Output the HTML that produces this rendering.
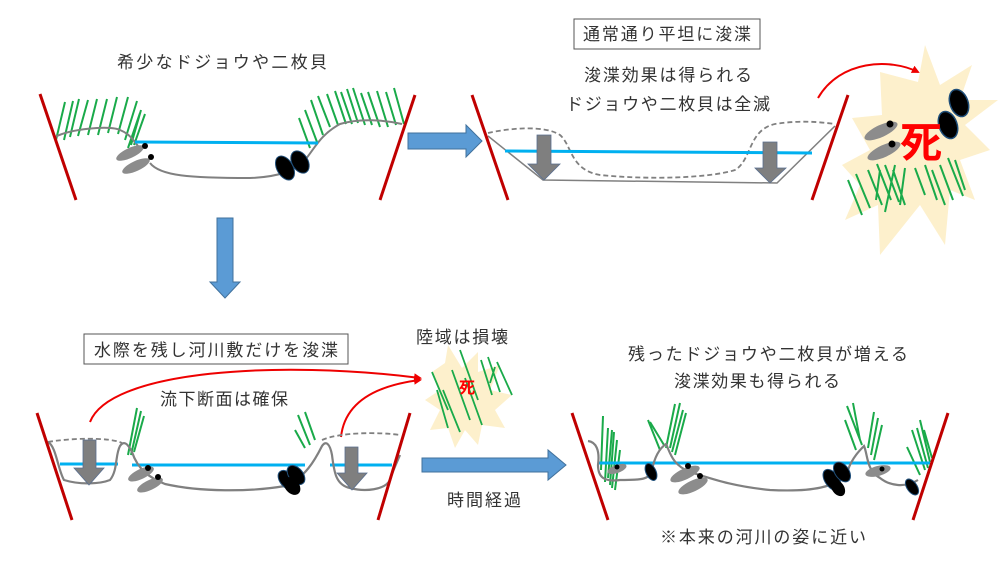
<!DOCTYPE html>
<html><head><meta charset="utf-8"><style>
html,body{margin:0;padding:0;background:#fff}
svg{display:block}
text{font-family:"Liberation Sans","Noto Sans CJK JP",sans-serif;fill:#333;font-size:17px}
</style></head><body>
<svg width="1000" height="563" viewBox="0 0 1000 563" xmlns="http://www.w3.org/2000/svg">
<defs>
<marker id="ra" markerWidth="8" markerHeight="8" refX="6" refY="4" orient="auto" markerUnits="userSpaceOnUse"><path d="M0,0 L8,4 L0,8 z" fill="#e00"/></marker>
</defs>
<rect width="1000" height="563" fill="#fff"/>

<!-- Texts -->
<text x="222" y="68" text-anchor="middle" textLength="210">希少なドジョウや二枚貝</text>
<rect x="574" y="19" width="186" height="30" fill="#fff" stroke="#555" stroke-width="1"/>
<text x="667" y="40" text-anchor="middle" textLength="168">通常通り平坦に浚渫</text>
<text x="668" y="81" text-anchor="middle" textLength="168">浚渫効果は得られる</text>
<text x="668" y="110" text-anchor="middle" textLength="204">ドジョウや二枚貝は全滅</text>
<rect x="84" y="334" width="264" height="30" fill="#fff" stroke="#555" stroke-width="1"/>
<text x="216" y="356" text-anchor="middle" textLength="244">水際を残し河川敷だけを浚渫</text>
<text x="462" y="343" text-anchor="middle" textLength="92">陸域は損壊</text>
<text x="224" y="405" text-anchor="middle" textLength="128">流下断面は確保</text>
<text x="768" y="360" text-anchor="middle" textLength="280">残ったドジョウや二枚貝が増える</text>
<text x="757" y="387" text-anchor="middle" textLength="166">浚渫効果も得られる</text>
<text x="484" y="506" text-anchor="middle" textLength="74">時間経過</text>
<text x="763" y="543" text-anchor="middle" textLength="206">※本来の河川の姿に近い</text>

<!-- Blue arrows -->
<path d="M408,133 L466,133 L466,125 L482,141 L466,157 L466,149 L408,149 z" fill="#5b9bd5" stroke="#41719c" stroke-width="1"/>
<path d="M217,218 L233,218 L233,282 L240,282 L225,298 L210,282 L217,282 z" fill="#5b9bd5" stroke="#41719c" stroke-width="1"/>
<path d="M422,458 L548,458 L548,450 L566,465 L548,480 L548,472 L422,472 z" fill="#5b9bd5" stroke="#41719c" stroke-width="1"/>

<!-- ===== Panel 1 ===== -->
<g stroke="#1aaa4a" stroke-width="2" fill="none">
<path d="M56,140 L65,102 M64,140 L73,101 M70,137 L79,99 M78,136 L88,100 M88,135 L97,99 M98,135 L107,99 M108,133 L117,97 M118,134 L128,97 M125,140 L137,101 M131,145 L141,110 M134,145 L145,114 M128,148 L140,113"/>
<path d="M310,148 L299,118 M317,142 L305,110 M323,135 L311,100 M330,127 L318,96 M338,125 L327,94 M346,124 L335,91 M352,124 L341,92 M358,123 L347,89 M365,125 L353,88 M372,125 L361,93 M380,127 L368,92 M388,127 L377,91 M396,125 L386,92 M404,124 L394,88"/>
</g>
<path d="M55,137 C70,129 110,125 120,130 C130,134 133,140 138,146" fill="none" stroke="#808080" stroke-width="2"/>
<path d="M150,163 C160,176 190,178 250,178 C280,177 295,170 305,160 C315,148 320,135 340,124 C360,118 385,120 402,124" fill="none" stroke="#808080" stroke-width="2"/>
<line x1="135" y1="142" x2="318" y2="143" stroke="#00b0f0" stroke-width="3"/>
<ellipse cx="130" cy="153" rx="15" ry="5" transform="rotate(-25 130 153)" fill="#8c8c8c"/>
<ellipse cx="136" cy="166" rx="15" ry="5" transform="rotate(-25 136 166)" fill="#8c8c8c"/>
<circle cx="145" cy="146" r="3" fill="#000"/><circle cx="151" cy="157" r="3" fill="#000"/>
<ellipse cx="285" cy="168" rx="8" ry="13" transform="rotate(-30 285 168)" fill="#000" stroke="#1f4e79" stroke-width="1"/>
<ellipse cx="300" cy="162" rx="8" ry="12" transform="rotate(-30 300 162)" fill="#000" stroke="#1f4e79" stroke-width="1"/>
<line x1="40" y1="94" x2="76" y2="200" stroke="#c00000" stroke-width="3"/>
<line x1="415" y1="95" x2="380" y2="200" stroke="#c00000" stroke-width="3"/>

<!-- ===== Panel 2 ===== -->
<path d="M488,136 L543,180 L777,183 L835,126" fill="none" stroke="#808080" stroke-width="1.5"/>
<path d="M488,133 C510,128 545,125 560,135 C572,145 570,170 600,175 C650,180 710,178 735,170 C752,160 748,130 775,124 C800,120 820,122 835,124" fill="none" stroke="#808080" stroke-width="1.8" stroke-dasharray="5,3"/>
<line x1="505" y1="151" x2="812" y2="153" stroke="#00b0f0" stroke-width="3"/>
<path d="M537,135 L551,135 L551,164 L560,164 L544,180 L528,164 L537,164 z" fill="#7f7f7f" stroke="#5a6f8f" stroke-width="0.8"/>
<path d="M763,142 L777,142 L777,168 L786,168 L770,183 L755,168 L763,168 z" fill="#7f7f7f" stroke="#5a6f8f" stroke-width="0.8"/>
<line x1="472" y1="95" x2="508" y2="200" stroke="#c00000" stroke-width="3"/>
<line x1="848" y1="95" x2="812" y2="200" stroke="#c00000" stroke-width="3"/>

<!-- burst -->
<path d="M818,98 C840,60 890,58 918,72" fill="none" stroke="#e00" stroke-width="2" marker-end="url(#ra)"/>
<polygon points="880,72 918,82 925,45 940,85 972,65 960,100 998,100 965,125 990,150 960,160 975,200 950,190 945,245 920,205 880,255 878,205 845,220 860,185 842,165 870,150 852,118 882,115" fill="#fdf0cc"/>
<g stroke="#1aaa4a" stroke-width="2">
<path d="M848,180 L862,215 M856,174 L870,208 M868,170 L882,205 M877,164 L891,200 M885,165 L899,202 M893,170 L905,205 M880,170 L876,200 M895,165 L885,212 M905,168 L900,205 M915,168 L925,195 M925,165 L937,200 M932,170 L945,205 M940,165 L953,200 M948,158 L963,196 M955,160 L965,190"/>
</g>
<ellipse cx="881" cy="131" rx="18" ry="6" transform="rotate(-25 881 131)" fill="#8c8c8c"/>
<ellipse cx="884" cy="151" rx="18" ry="6" transform="rotate(-25 884 151)" fill="#8c8c8c"/>
<circle cx="890" cy="124" r="3.5" fill="#000"/><circle cx="892" cy="144" r="3.5" fill="#000"/>
<ellipse cx="959" cy="103" rx="9" ry="14" transform="rotate(-20 959 103)" fill="#000" stroke="#1f4e79" stroke-width="1.5"/>
<ellipse cx="948" cy="125" rx="9" ry="14" transform="rotate(-20 948 125)" fill="#000" stroke="#1f4e79" stroke-width="1.5"/>
<text x="921" y="157" text-anchor="middle" style="font-size:42px;font-weight:bold;fill:#ff0000">死</text>

<!-- ===== Panel 3 ===== -->
<path d="M90,422 C110,370 280,360 420,378" fill="none" stroke="#e00" stroke-width="2" marker-end="url(#ra)"/>
<path d="M341,437 C345,400 380,385 420,380" fill="none" stroke="#e00" stroke-width="2" marker-end="url(#ra)"/>
<polygon points="432,372 445,363 448,345 462,368 478,352 478,372 500,365 490,390 512,395 495,410 505,428 482,425 478,445 465,430 455,448 448,428 430,430 440,410 425,400 440,390" fill="#fdf0cc"/>
<g stroke="#1aaa4a" stroke-width="1.8">
<path d="M432,372 L448,410 M437,390 L448,428 M443,390 L460,432 M452,370 L470,420 M460,350 L478,400 M465,378 L482,425 M481,360 L492,395 M488,357 L500,392 M497,362 L512,395 M495,367 L490,383"/>
</g>
<text x="467" y="393" text-anchor="middle" style="font-size:16px;font-weight:bold;fill:#ff0000">死</text>

<g stroke="#1aaa4a" stroke-width="2"><path d="M128,455 L137,408 M131,455 L141,411 M134,452 L144,416"/>
<path d="M305,448 L295,430 M310,445 L298,415 M315,440 L305,412"/></g>
<path d="M48,442 C70,438 110,437 122,443" fill="none" stroke="#808080" stroke-width="1.8" stroke-dasharray="5,3"/>
<path d="M322,440 C340,432 380,432 400,435" fill="none" stroke="#808080" stroke-width="1.8" stroke-dasharray="5,3"/>
<line x1="60" y1="464" x2="118" y2="464" stroke="#00b0f0" stroke-width="3"/>
<line x1="132" y1="465" x2="305" y2="465" stroke="#00b0f0" stroke-width="3"/>
<line x1="330" y1="465" x2="392" y2="465" stroke="#00b0f0" stroke-width="3"/>
<path d="M48,442 C56,446 58,470 64,480 C80,485 100,484 110,480 C118,470 115,455 120,446 C124,440 128,444 132,452 C138,470 150,478 165,484 C200,492 250,492 285,486 C305,478 315,460 322,446 C326,440 330,444 332,455 C334,470 335,485 350,488 C365,492 385,490 390,480 C393,470 398,460 400,455" fill="none" stroke="#808080" stroke-width="2.2"/>
<path d="M83,440 L96,440 L96,468 L104,468 L89,485 L74,468 L83,468 z" fill="#7f7f7f" stroke="#5a6f8f" stroke-width="0.8"/>
<path d="M345,447 L358,447 L358,473 L367,473 L352,490 L337,473 L345,473 z" fill="#7f7f7f" stroke="#5a6f8f" stroke-width="0.8"/>
<ellipse cx="141" cy="474" rx="14" ry="5" transform="rotate(-25 141 474)" fill="#8c8c8c"/>
<ellipse cx="150" cy="485" rx="14" ry="5" transform="rotate(-25 150 485)" fill="#8c8c8c"/>
<circle cx="148" cy="468" r="3" fill="#000"/><circle cx="158" cy="477" r="3" fill="#000"/>
<ellipse cx="287" cy="480" rx="7" ry="11" transform="rotate(-40 287 480)" fill="#000" stroke="#1f4e79"/>
<ellipse cx="296" cy="475" rx="7" ry="11" transform="rotate(-40 296 475)" fill="#000" stroke="#1f4e79"/>
<ellipse cx="292" cy="486" rx="7" ry="10" transform="rotate(-40 292 486)" fill="#000"/>
<line x1="37" y1="413" x2="72" y2="520" stroke="#c00000" stroke-width="3"/>
<line x1="410" y1="413" x2="378" y2="520" stroke="#c00000" stroke-width="3"/>

<!-- ===== Panel 4 ===== -->
<g stroke="#1aaa4a" stroke-width="2">
<path d="M601,470 L603,416 M605,482 L608,428 M608,478 L612,430 M610,485 L614,432 M612,488 L617,440 M615,490 L620,450"/>
<path d="M660,450 L648,420 M664,445 L650,422 M666,448 L675,404 M670,448 L680,403 M672,452 L683,410 M675,455 L686,413"/>
<path d="M856,450 L845,420 M862,445 L847,406 M868,448 L874,412 M871,455 L878,418 M874,460 L882,425 M860,440 L853,403"/>
<path d="M920,475 L907,447 M925,470 L912,430 M928,468 L917,428 M930,462 L920,420 M932,458 L924,430"/>
</g>
<line x1="598" y1="463" x2="930" y2="463" stroke="#00b0f0" stroke-width="3"/>
<path d="M588,441 C596,442 600,450 598,465 C598,478 605,482 620,480 C640,480 650,480 652,470 C655,455 660,448 666,444 C670,452 672,465 690,472 C710,478 730,486 770,490 C810,492 840,488 848,470 C852,458 860,450 864,446 C868,455 866,470 880,478 C890,486 905,488 918,480" fill="none" stroke="#808080" stroke-width="2.2"/>
<ellipse cx="617" cy="469" rx="10" ry="4" transform="rotate(-20 617 469)" fill="#8c8c8c"/>
<circle cx="617" cy="467" r="2.5" fill="#000"/>
<ellipse cx="651" cy="472" rx="5" ry="9" transform="rotate(-25 651 472)" fill="#000" stroke="#1f4e79"/>
<ellipse cx="685" cy="474" rx="16" ry="5.5" transform="rotate(-25 685 474)" fill="#8c8c8c"/>
<ellipse cx="693" cy="486" rx="16" ry="5.5" transform="rotate(-25 693 486)" fill="#8c8c8c"/>
<circle cx="688" cy="466" r="3" fill="#000"/><circle cx="700" cy="476" r="3" fill="#000"/>
<ellipse cx="832" cy="480" rx="7" ry="12" transform="rotate(-35 832 480)" fill="#000" stroke="#1f4e79"/>
<ellipse cx="842" cy="472" rx="7" ry="11" transform="rotate(-35 842 472)" fill="#000" stroke="#1f4e79"/>
<ellipse cx="838" cy="488" rx="6" ry="9" transform="rotate(-35 838 488)" fill="#000"/>
<ellipse cx="878" cy="471" rx="13" ry="5" transform="rotate(-15 878 471)" fill="#8c8c8c"/>
<circle cx="882" cy="469" r="2.5" fill="#000"/>
<ellipse cx="912" cy="487" rx="5" ry="9" transform="rotate(-35 912 487)" fill="#000" stroke="#1f4e79"/>
<line x1="572" y1="413" x2="608" y2="520" stroke="#c00000" stroke-width="3"/>
<line x1="948" y1="413" x2="913" y2="520" stroke="#c00000" stroke-width="3"/>
</svg>
</body></html>
